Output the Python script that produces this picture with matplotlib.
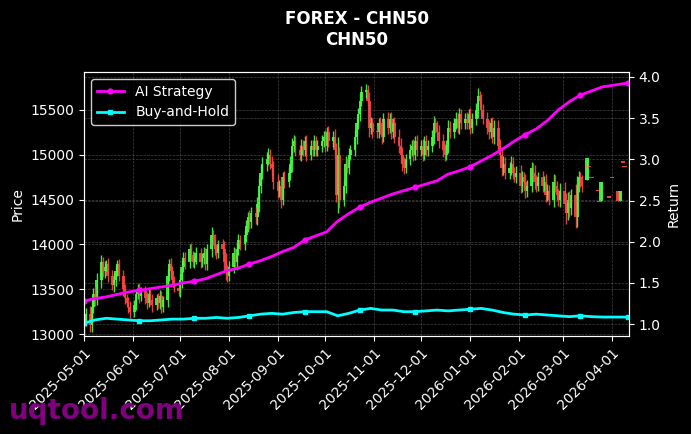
import numpy as np
import pandas as pd
import matplotlib
matplotlib.use("Agg")
import matplotlib.pyplot as plt
import matplotlib.dates as mdates


# %% Daten

# Tägliche Schlusskurse, Handelstage 2025-05-01 .. 2026-03-13
closes = [
    13150, 13230,
    13100, 13300, 13450, 13400, 13600,
    13800, 13700, 13750, 13780, 13650,
    13550, 13600, 13700, 13780, 13650,
    13500, 13400, 13350, 13300, 13250,
    13320, 13450, 13500, 13420, 13480,
    13400, 13350, 13450, 13380, 13320,
    13400, 13350, 13420, 13300, 13380,
    13650, 13780, 13700, 13600, 13520,
    13480, 13600, 13750, 13850, 13800,
    13950, 13880, 13800, 13850, 13900,
    13800, 13850, 13900, 13780, 13950,
    14100, 14050, 13950, 13900, 14000,
    13950, 13800, 13700, 13650, 13750,
    13900, 13800, 13950, 14050, 14000,
    14100, 14200, 14300, 14250, 14350,
    14300, 14450, 14650, 14800, 14900,
    14950, 15000, 14900, 14850, 14700,
    14600, 14650, 14500, 14750, 14700,
    14800, 14900, 15100, 15150, 15050,
    15000, 15100, 15050, 15150, 15000,
    15100, 15050, 15150, 15050, 15100,
    15150, 15200, 15100, 15250, 15150,
    15200, 15050, 14550, 15000, 14500,
    14650, 14900, 14850, 15000, 15050,
    15200, 15350, 15450, 15600, 15700,
    15720, 15600, 15300, 15350, 15250,
    15250, 15350, 15300, 15200, 15400,
    15300, 15400, 15250, 15350, 15200,
    15100, 15000, 14900, 14850, 14950,
    15050, 15100, 15000, 15150, 15050,
    15100, 15000, 15150, 15050, 15100,
    15200, 15350, 15300, 15250, 15150,
    15050, 15000, 15100, 15300, 15250,
    15350, 15400, 15300, 15450, 15350,
    15400, 15350, 15450, 15300, 15400,
    15500, 15650, 15600, 15500, 15400,
    15300, 15250, 15350, 15200, 15300,
    15100, 15000, 14850, 14900, 14800,
    14850, 14900, 14800, 14750, 14800,
    14650, 14750, 14700, 14600, 14650,
    14850, 14800, 14700, 14650, 14750,
    14650, 14700, 14550, 14600, 14500,
    14700, 14650, 14550, 14500, 14600,
    14450, 14350, 14500, 14400, 14550,
    14300, 14650, 14750, 14700, 14650,
]
first_open = 13080

# Dochtlänge je Kerze (Punkte über/unter dem Körper)
wicks = [
    90, 60,
    80, 70, 60, 90, 80,
    80, 60, 70, 50, 70,
    60, 80, 60, 50, 60,
    70, 60, 50, 60, 70,
    60, 50, 60, 70, 50,
    60, 70, 50, 60, 70,
    50, 60, 70, 60, 50,
    80, 60, 70, 60, 50,
    60, 70, 80, 60, 70,
    60, 70, 50, 60, 70,
    60, 50, 70, 60, 60,
    90, 60, 70, 60, 50,
    60, 90, 100, 70, 60,
    70, 60, 80, 70, 60,
    60, 70, 60, 80, 70,
    70, 80, 90, 80, 70,
    80, 70, 60, 90, 80,
    80, 70, 100, 60, 70,
    60, 80, 90, 70, 60,
    60, 70, 60, 60, 70,
    60, 60, 70, 60, 60,
    70, 60, 70, 60, 70,
    60, 90, 80, 200, 90,
    70, 80, 60, 70, 60,
    70, 80, 70, 80, 60,
    70, 60, 100, 70, 60,
    70, 60, 70, 80, 60,
    70, 60, 80, 60, 70,
    80, 90, 80, 70, 60,
    70, 60, 70, 60, 70,
    60, 70, 60, 70, 60,
    70, 80, 60, 70, 80,
    80, 70, 60, 80, 70,
    60, 70, 60, 70, 60,
    60, 70, 60, 70, 60,
    70, 90, 60, 70, 60,
    70, 80, 60, 70, 80,
    80, 70, 90, 80, 70,
    70, 80, 70, 60, 70,
    80, 70, 60, 80, 70,
    70, 60, 80, 70, 60,
    70, 60, 80, 70, 60,
    80, 70, 60, 70, 80,
    90, 120, 80, 90, 70,
    120, 110, 70, 60, 70,
]

# Letzter, lückenhafter Abschnitt (einzelne Kerzen, oft Doji)
tail_dates = ["2026-03-16", "2026-03-17", "2026-03-19", "2026-03-23",
              "2026-03-24", "2026-03-25", "2026-03-30", "2026-04-01",
              "2026-04-05", "2026-04-06", "2026-04-08", "2026-04-09"]
tail_open = [14720, 14860, 14740, 14590, 14470, 14480, 14520, 14740,
             14600, 14480, 14910, 14860]
tail_close = [14960, 14860, 14740, 14590, 14470, 14700, 14520, 14740,
              14480, 14600, 14910, 14860]

# Renditekurven (wöchentlich)
ret_dates = list(pd.date_range("2025-05-01", periods=50, freq="7D")) + [pd.Timestamp("2026-04-11")]
ai_strategy = [
    1.28, 1.31, 1.33, 1.36, 1.39, 1.41, 1.43, 1.45, 1.47, 1.50,
    1.52, 1.55, 1.60, 1.65, 1.68, 1.73, 1.77, 1.82, 1.88, 1.93,
    2.02, 2.07, 2.12, 2.25, 2.34, 2.42, 2.48, 2.53, 2.58, 2.62,
    2.66, 2.70, 2.74, 2.82, 2.86, 2.91, 2.98, 3.05, 3.13, 3.22,
    3.30, 3.37, 3.47, 3.60, 3.70, 3.78, 3.83, 3.88, 3.90, 3.92,
    3.93,
]
buy_hold = [
    1.01, 1.05, 1.07, 1.06, 1.05, 1.04, 1.04, 1.05, 1.06, 1.06,
    1.07, 1.07, 1.08, 1.07, 1.08, 1.10, 1.12, 1.13, 1.12, 1.14,
    1.15, 1.15, 1.15, 1.10, 1.13, 1.17, 1.19, 1.17, 1.17, 1.15,
    1.15, 1.16, 1.17, 1.16, 1.17, 1.18, 1.19, 1.17, 1.14, 1.12,
    1.11, 1.12, 1.11, 1.10, 1.09, 1.10, 1.09, 1.085, 1.085, 1.085,
    1.085,
]


# %% Kerzen zusammenstellen

days = pd.bdate_range("2025-05-01", "2026-03-13")
opens = [first_open] + closes[:-1]
highs = [max(o, c) + w for o, c, w in zip(opens, closes, wicks)]
lows = [min(o, c) - w for o, c, w in zip(opens, closes, wicks)]

all_dates = list(days) + list(pd.to_datetime(tail_dates))
all_open = opens + tail_open
all_close = closes + tail_close
all_high = highs + [max(o, c) for o, c in zip(tail_open, tail_close)]
all_low = lows + [min(o, c) for o, c in zip(tail_open, tail_close)]
body_w = [1.6] * len(days) + [2.8] * len(tail_dates)

GREEN = "#44ff44"
RED = "#ff4444"


# %% Plot

fig = plt.figure(figsize=(6.91, 4.34), dpi=100, facecolor="black")
ax = fig.add_axes([0.1216, 0.2258, 0.7887, 0.6083])
ax.set_facecolor("black")
ax2 = ax.twinx()

xd = mdates.date2num(all_dates)
cols = [GREEN if c > o else RED for o, c in zip(all_open, all_close)]
ax.vlines(xd, all_low, all_high, colors=cols, linewidth=1, alpha=0.9)
bottoms = [min(o, c) for o, c in zip(all_open, all_close)]
heights = [max(abs(c - o), 14) for o, c in zip(all_open, all_close)]
ax.bar(xd, heights, bottom=bottoms, width=body_w, color=cols, linewidth=0, alpha=0.9)

ax2.plot(ret_dates, ai_strategy, color="magenta", linewidth=2, marker="o",
         markersize=3.5, markevery=5, label="AI Strategy")
ax2.plot(ret_dates, buy_hold, color="cyan", linewidth=2, marker="s",
         markersize=3.5, markevery=5, label="Buy-and-Hold")

ax.set_xlim(mdates.date2num(pd.Timestamp("2025-05-01")),
            mdates.date2num(pd.Timestamp("2026-04-11 20:00")))
ax.set_ylim(12980, 15920)
ax2.set_ylim(0.855, 4.06)

ax.xaxis.set_major_locator(mdates.MonthLocator())
ax.xaxis.set_major_formatter(mdates.DateFormatter("%Y-%m-%d"))
plt.setp(ax.get_xticklabels(), rotation=45, ha="right", rotation_mode="anchor")

for a in (ax, ax2):
    a.tick_params(colors="white", labelsize=10)
    for sp in a.spines.values():
        sp.set_color("white")
ax.grid(True, color="gray", linestyle="--", linewidth=0.5, alpha=0.5)
ax2.grid(True, axis="y", color="gray", linestyle="--", linewidth=0.5, alpha=0.5)

ax.set_ylabel("Price", color="white", fontsize=10)
ax2.set_ylabel("Return", color="white", fontsize=10)
ax.set_title("FOREX - CHN50\nCHN50", color="white", fontsize=12,
             fontweight="bold", pad=19.5)

leg = ax2.legend(loc="upper left", facecolor="black", edgecolor="white",
                 labelcolor="white", fontsize=10)

fig.text(0.013, 0.035, "uqtool.com", fontsize=20, fontweight="bold",
         color="#800080", va="baseline")

fig.savefig("out.png", dpi=100, facecolor="black")
